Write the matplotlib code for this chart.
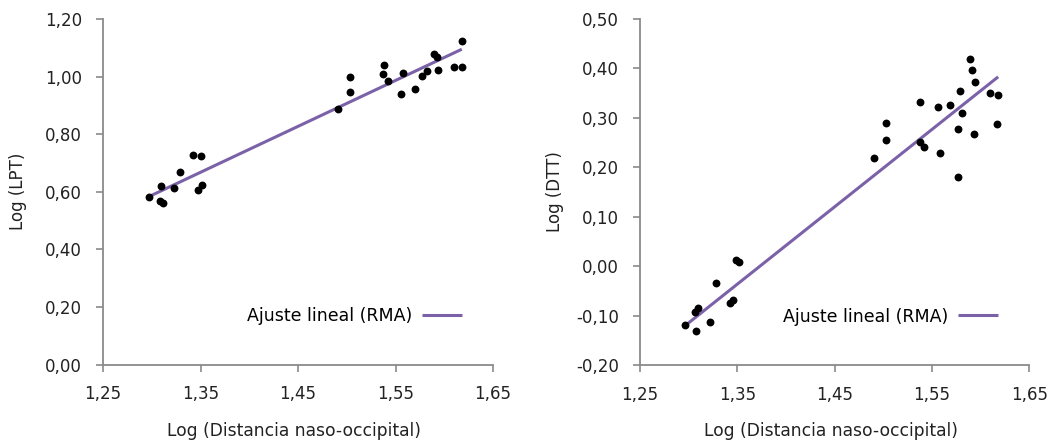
import matplotlib
matplotlib.use("Agg")
import matplotlib.pyplot as plt
import numpy as np

# ---- data ----
lpt_x = [1.297, 1.309, 1.308, 1.3115, 1.323, 1.329, 1.342, 1.351, 1.347, 1.352,
         1.491, 1.503, 1.503, 1.538, 1.537, 1.542, 1.558, 1.556, 1.570, 1.577,
         1.582, 1.589, 1.593, 1.594, 1.610, 1.618, 1.618]
lpt_y = [0.583, 0.621, 0.568, 0.562, 0.614, 0.668, 0.726, 0.725, 0.605, 0.623,
         0.886, 0.999, 0.946, 1.039, 1.010, 0.984, 1.013, 0.940, 0.957, 1.003,
         1.020, 1.080, 1.067, 1.023, 1.034, 1.034, 1.124]

dtt_x = [1.2966, 1.308, 1.307, 1.310, 1.322, 1.328, 1.342, 1.346, 1.349, 1.352,
         1.4905, 1.503, 1.503, 1.538, 1.538, 1.542, 1.556, 1.558, 1.569, 1.577,
         1.577, 1.579, 1.581, 1.589, 1.591, 1.594, 1.593, 1.610, 1.618, 1.617]
dtt_y = [-0.120, -0.131, -0.093, -0.085, -0.114, -0.034, -0.074, -0.069, 0.012, 0.009,
         0.219, 0.290, 0.256, 0.333, 0.251, 0.241, 0.321, 0.229, 0.325, 0.277,
         0.180, 0.354, 0.310, 0.420, 0.396, 0.372, 0.268, 0.351, 0.346, 0.287]

# RMA fit endpoints (x_start, y_start, x_end, y_end)
lpt_fit = [1.297, 0.583, 1.618, 1.095]
dtt_fit = [1.2966, -0.120, 1.618, 0.383]

x_ticks = [1.25, 1.35, 1.45, 1.55, 1.65]
lpt_yticks = [0.0, 0.2, 0.4, 0.6, 0.8, 1.0, 1.2]
dtt_yticks = [-0.2, -0.1, 0.0, 0.1, 0.2, 0.3, 0.4, 0.5]

x_label = "Log (Distancia naso-occipital)"
lpt_label = "Log (LPT)"
dtt_label = "Log (DTT)"
legend_label = "Ajuste lineal (RMA)"

# ---- styling ----
plt.rcParams['font.family'] = ['DejaVu Sans']

line_color = "#7B62A8"
spine_color = "#8A8A8A"
text_color = "#222222"

fig = plt.figure(figsize=(10.53, 4.44), dpi=100)
ax1 = fig.add_axes([103/1053, 1-364.5/444, 390/1053, 345.5/444])
ax2 = fig.add_axes([640/1053, 1-365/444, 389.3/1053, 346/444])


def fmt(v):
    return f"{v:.2f}".replace(".", ",")


def style(ax, xs, ys, fit, yticks, ylabel):
    ax.scatter(xs, ys, s=32, color="black", zorder=3, linewidths=0)
    ax.plot([fit[0], fit[2]], [fit[1], fit[3]], color=line_color, lw=2.2,
            solid_capstyle="butt", zorder=2, label=legend_label)
    ax.set_xlim(x_ticks[0], x_ticks[-1])
    ax.set_ylim(yticks[0], yticks[-1])
    ax.set_xticks(x_ticks)
    ax.set_xticklabels([fmt(v) for v in x_ticks], fontsize=12, color=text_color)
    ax.set_yticks(yticks)
    ax.set_yticklabels([fmt(v) for v in yticks], fontsize=12, color=text_color)
    for s in ["top", "right"]:
        ax.spines[s].set_visible(False)
    for s in ["left", "bottom"]:
        ax.spines[s].set_color(spine_color)
        ax.spines[s].set_linewidth(1.3)
    ax.tick_params(axis="both", direction="out", length=5, width=1.2,
                   color=spine_color)
    ax.tick_params(axis="x", pad=10)
    ax.tick_params(axis="y", pad=10)
    ax.set_xlabel(x_label, fontsize=12.3, color=text_color)
    ax.xaxis.set_label_coords(0.49, -0.165)
    ax.set_ylabel(ylabel, fontsize=12, color=text_color)
    ax.yaxis.set_label_coords(-0.218, 0.5)
    ax.yaxis.label.set_verticalalignment("center")
    ax.legend(loc="center right", bbox_to_anchor=(0.938, 0.14), frameon=False,
              markerfirst=False, fontsize=12.5, handlelength=2.3,
              handletextpad=0.58, borderaxespad=0)


style(ax1, lpt_x, lpt_y, lpt_fit, lpt_yticks, lpt_label)
style(ax2, dtt_x, dtt_y, dtt_fit, dtt_yticks, dtt_label)

fig.savefig("out.png", dpi=100)
